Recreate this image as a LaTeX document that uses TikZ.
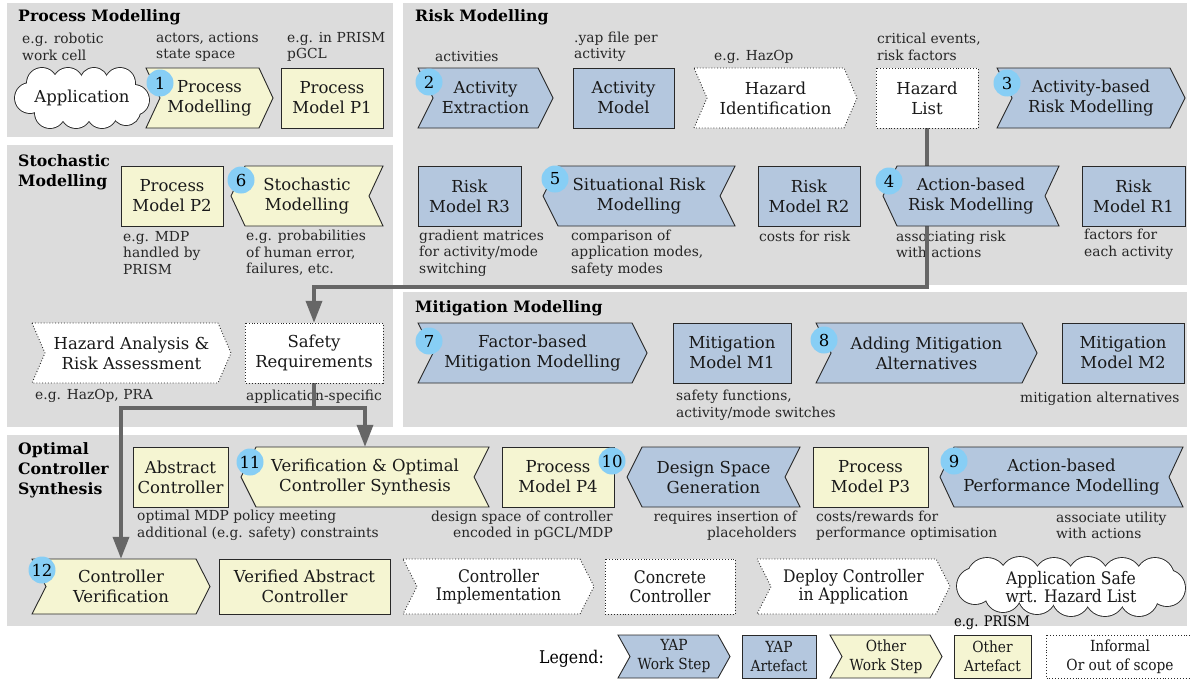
\documentclass[tikz,border=0pt]{standalone}
\usepackage{fontspec}
\setmainfont{DejaVu Serif}
\newfontfamily\condfont[FakeStretch=0.9]{DejaVu Serif}
\usetikzlibrary{arrows.meta}
\definecolor{panelgrey}{RGB}{220,220,220}
\definecolor{yapblue}{RGB}{180,199,222}
\definecolor{othyellow}{RGB}{245,245,210}
\definecolor{numblue}{RGB}{135,206,245}
\definecolor{conngrey}{RGB}{102,102,102}
\definecolor{edgecol}{RGB}{40,40,40}
\pgfdeclarelayer{back}
\pgfdeclarelayer{conn}
\pgfsetlayers{back,conn,main}
\tikzset{
 panel/.style={fill=panelgrey, draw=none},
 ttl/.style={font=\bfseries\fontsize{15.7}{20}\selectfont, anchor=west, align=left, inner sep=0},
 ann/.style={font=\fontsize{13.8}{16.5}\selectfont, anchor=west, align=left, inner sep=0, text=black!85},
 annr/.style={ann, anchor=east, align=right},
 txt/.style={font=\fontsize{16.5}{20}\selectfont, align=center, inner sep=0, text=black!90},
 ctxt/.style={font=\condfont\fontsize{17.3}{18.5}\selectfont, align=center, inner sep=0, text=black!90},
 ltxt/.style={font=\condfont\fontsize{15.3}{19}\selectfont, align=center, inner sep=0, text=black!90},
 yap/.style={fill=yapblue, draw=edgecol, line width=0.9pt},
 oth/.style={fill=othyellow, draw=edgecol, line width=0.9pt},
 inf/.style={fill=white, draw=edgecol, dotted, line width=0.9pt},
 numc/.style={circle, fill=numblue, minimum size=27pt, inner sep=0, font=\fontsize{16.5}{20}\selectfont},
 conn/.style={draw=conngrey, line width=3.6pt, -{Triangle[length=22pt,width=16pt]}},
 puffline/.style={draw=edgecol, line width=1.8pt},
}
% forward step: style, textstyle, name, x1, x2, y1, y2, indent, text
\newcommand{\fstep}[9]{%
  \path[#1] (#4,#6) -- ({#5-#8},#6) -- (#5,{(#6+#7)/2}) -- ({#5-#8},#7) -- (#4,#7) -- ({#4+#8},{(#6+#7)/2}) -- cycle;
  \node[#2, minimum width={(#5-#4)*1pt}, minimum height={(#7-#6)*1pt}] (#3) at ({(#4+#5)/2},{(#6+#7)/2}) {#9};
}
% reversed step
\newcommand{\rstep}[9]{%
  \path[#1] ({#4+#8},#6) -- (#5,#6) -- ({#5-#8},{(#6+#7)/2}) -- (#5,#7) -- ({#4+#8},#7) -- (#4,{(#6+#7)/2}) -- cycle;
  \node[#2, minimum width={(#5-#4)*1pt}, minimum height={(#7-#6)*1pt}] (#3) at ({(#4+#5)/2},{(#6+#7)/2}) {#9};
}
% box: style, textstyle, name, x1, x2, y1, y2, text
\newcommand{\rbox}[8]{%
  \path[#1] (#4,#6) rectangle (#5,#7);
  \node[#2, minimum width={(#5-#4)*1pt}, minimum height={(#7-#6)*1pt}] (#3) at ({(#4+#5)/2},{(#6+#7)/2}) {#8};
}
% cloud: cx, cy, inner ellipse rx, ry, puff list dx/dy/r
\newcommand{\puffcloud}[5]{%
  \foreach \dx/\dy/\rr in {#5} {\path[puffline] ({#1+\dx},{#2+\dy}) circle[radius=\rr];}
  \foreach \dx/\dy/\rr in {#5} {\fill[white] ({#1+\dx},{#2+\dy}) circle[radius=\rr];}
  \fill[white] (#1,#2) ellipse[x radius=#3, y radius=#4];
}
\begin{document}
\begin{tikzpicture}[x=1pt,y=-1pt]
\useasboundingbox (0,0) rectangle (1190,680);
\begin{pgfonlayer}{back}
\fill[white] (0,0) rectangle (1190,680);
\path[panel] (7,3) rectangle (393,137);
\path[panel] (403,3) rectangle (1187,285);
\path[panel] (7,145) rectangle (393,427);
\path[panel] (403,292) rectangle (1187,427);
\path[panel] (7,435) rectangle (1187,626);
% titles
\node[ttl] (tpm) at (18,17) {Process Modelling};
\node[ttl] (trm) at (415,17) {Risk Modelling};
\node[ttl] (tsm) at (18,172) {Stochastic\\Modelling};
\node[ttl] (tmm) at (415,308) {Mitigation Modelling};
\node[ttl] (toc) at (18,470) {Optimal\\Controller\\Synthesis};
% annotations
\node[ann] (a1) at (22,47) {e.g. robotic\\work cell};
\node[ann] (a2) at (156,47) {actors, actions\\state space};
\node[ann] (a3) at (287,47) {e.g. in PRISM\\pGCL};
\node[ann] (a4) at (435,57) {activities};
\node[ann] (a5) at (574,47) {.yap file per\\activity};
\node[ann] (a6) at (714,57) {e.g. HazOp};
\node[ann] (a7) at (877,47) {critical events,\\risk factors};
\node[ann] (a8) at (419,253) {gradient matrices\\for activity/mode\\switching};
\node[ann] (a9) at (571,253) {comparison of\\application modes,\\safety modes};
\node[ann] (a10) at (759,236) {costs for risk};
\node[ann] (a11) at (896,244.5) {associating risk\\with actions};
\node[ann] (a12) at (1084,244.5) {factors for\\each activity};
\node[ann] (a13) at (123,253) {e.g. MDP\\handled by\\PRISM};
\node[ann] (a14) at (246,253) {e.g. probabilities\\of human error,\\failures, etc.};
\node[ann] (a15) at (35,396) {e.g. HazOp, PRA};
\node[ann] (a16) at (246,397) {application-specific};
\node[ann] (a17) at (676,405.5) {safety functions,\\activity/mode switches};
\node[ann] (a18) at (1020,399) {mitigation alternatives};
\node[ann] (a19) at (137,525.5) {optimal MDP policy meeting\\additional (e.g. safety) constraints};
\node[annr] (a20) at (613,525.5) {design space of controller\\encoded in pGCL/MDP};
\node[annr] (a21) at (797,525.5) {requires insertion of\\placeholders};
\node[ann] (a22) at (816,525.5) {costs/rewards for\\performance optimisation};
\node[ann] (a23) at (1056,525.5) {associate utility\\with actions};
\end{pgfonlayer}
% Process modelling
\puffcloud{82}{98}{52}{15}{-52/0/15, -40/-15/15, -14/-15/15, 12/-16/14, 38/-15/15, 52/2/15, 44/13/14, 20/15/15, -6/15/15, -32/15/15}
\node[txt] (app) at (82,98) {Application};
\fstep{oth}{txt}{pm}{146}{273}{68}{128}{14}{Process\\Modelling}
\node[numc] (c1) at (160,83) {1};
\rbox{oth}{txt}{p1}{281}{383}{68}{128}{Process\\Model P1}
% Risk modelling row 1
\fstep{yap}{txt}{ae}{418}{553}{68}{128}{15}{Activity\\Extraction}
\node[numc] (c2) at (429,82) {2};
\rbox{yap}{txt}{am}{573}{674}{68}{128}{Activity\\Model}
\fstep{inf}{txt}{hi}{694}{857}{68}{128}{13}{Hazard\\Identification}
\rbox{inf}{txt}{hl}{876}{978}{68}{128}{Hazard\\List}
\fstep{yap}{txt}{ar}{997}{1185}{68}{128}{15}{Activity-based\\Risk Modelling}
\node[numc] (c3) at (1007,83) {3};
% Risk modelling row 2
\rbox{yap}{txt}{r3}{418}{521}{166}{226}{Risk\\Model R3}
\rstep{yap}{txt}{srm}{543}{735}{166}{226}{15}{Situational Risk\\Modelling}
\node[numc] (c5) at (555,179) {5};
\rbox{yap}{txt}{r2}{758}{860}{166}{226}{Risk\\Model R2}
\rstep{yap}{txt}{abr}{883}{1059}{166}{226}{14}{Action-based\\Risk Modelling}
\node[numc] (c4) at (889,181) {4};
\rbox{yap}{txt}{r1}{1082}{1185}{166}{226}{Risk\\Model R1}
% Stochastic
\rbox{oth}{txt}{p2}{121}{223}{166}{226}{Process\\Model P2}
\rstep{oth}{txt}{sm}{231}{383}{166}{226}{14}{Stochastic\\Modelling}
\node[numc] (c6) at (241,180) {6};
\fstep{inf}{txt}{ha}{32}{231}{323}{383}{13}{Hazard Analysis \&\\Risk Assessment}
\rbox{inf}{txt}{sreq}{245}{383}{323}{383}{Safety\\Requirements}
% Mitigation
\fstep{yap}{txt}{fm}{418}{647}{323}{383}{15}{Factor-based\\Mitigation Modelling}
\node[numc] (c7) at (429,341) {7};
\rbox{yap}{txt}{m1}{673}{791}{323}{383}{Mitigation\\Model M1}
\fstep{yap}{txt}{ama}{816}{1037}{323}{383}{15}{Adding Mitigation\\Alternatives}
\node[numc] (c8) at (824,340) {8};
\rbox{yap}{txt}{m2}{1062}{1184}{323}{383}{Mitigation\\Model M2}
% Optimal controller synthesis row 1
\rbox{oth}{txt}{ac}{133}{228}{447}{507}{Abstract\\Controller}
\rstep{oth}{txt}{vo}{241}{489}{447}{507}{15}{Verification \& Optimal\\Controller Synthesis}
\node[numc] (c11) at (250,462) {11};
\rbox{oth}{txt}{p4}{502}{614}{447}{507}{Process\\Model P4}
\rstep{yap}{txt}{dsg}{627}{800}{447}{507}{15}{Design Space\\Generation}
\node[numc] (c10) at (612,461) {10};
\rbox{oth}{txt}{p3}{813}{928}{447}{507}{Process\\Model P3}
\rstep{yap}{txt}{apm}{940}{1183}{447}{507}{14}{Action-based\\Performance Modelling}
\node[numc] (c9) at (954,461) {9};
% row 2
\fstep{oth}{txt}{cv}{32}{210}{559}{614}{14}{Controller\\Verification}
\node[numc] (c12) at (42,570) {12};
\rbox{oth}{txt}{vac}{219}{390}{559}{614}{Verified Abstract\\Controller}
\fstep{inf}{ctxt}{ci}{403}{594}{559}{614}{14}{Controller\\Implementation}
\rbox{inf}{ctxt}{cc}{605}{735}{559}{614}{Concrete\\Controller}
\fstep{inf}{ctxt}{dc}{757}{950}{559}{614}{14}{Deploy Controller\\in Application}
\puffcloud{1071}{587}{96}{12}{-96/-1/18, -84/-9/20, -51/-10/20, -17/-9/20, 17/-10/20, 51/-9/20, 84/-10/19, 96/1/18, 68/10/19, 34/9/20, 0/10/19, -34/8/19, -68/7/18}
\node[ctxt] (safe) at (1071,587) {Application Safe\\wrt. Hazard List};
\node[font=\condfont\fontsize{14.5}{16}\selectfont, inner sep=0] (a24) at (992,623) {e.g. PRISM};
% Legend
\node[font=\condfont\fontsize{17.5}{20}\selectfont, anchor=east, inner sep=0] (leg) at (604,659) {Legend:};
\fstep{yap}{ltxt}{l1}{618}{730}{635}{678}{12}{YAP\\Work Step}
\rbox{yap}{ltxt}{l2}{742}{816}{635}{678}{YAP\\Artefact}
\fstep{oth}{ltxt}{l3}{830}{942}{635}{678}{12}{Other\\Work Step}
\rbox{oth}{ltxt}{l4}{954}{1031}{635}{678}{Other\\Artefact}
\rbox{inf}{ltxt}{l5}{1046}{1194}{635}{678}{Informal\\Or out of scope}
% connectors
\begin{pgfonlayer}{conn}
\coordinate (b1) at (hl.south |- 0,287);
\draw[conn] (hl.south) -- (b1) -| (sreq.north);
\coordinate (j1) at (sreq.south |- 0,408);
\draw[conn,-] (sreq.south) -- (j1);
\draw[conn] (j1) -| (cv.north);
\draw[conn] (j1) -| (vo.north);
\end{pgfonlayer}
\end{tikzpicture}
\end{document}
